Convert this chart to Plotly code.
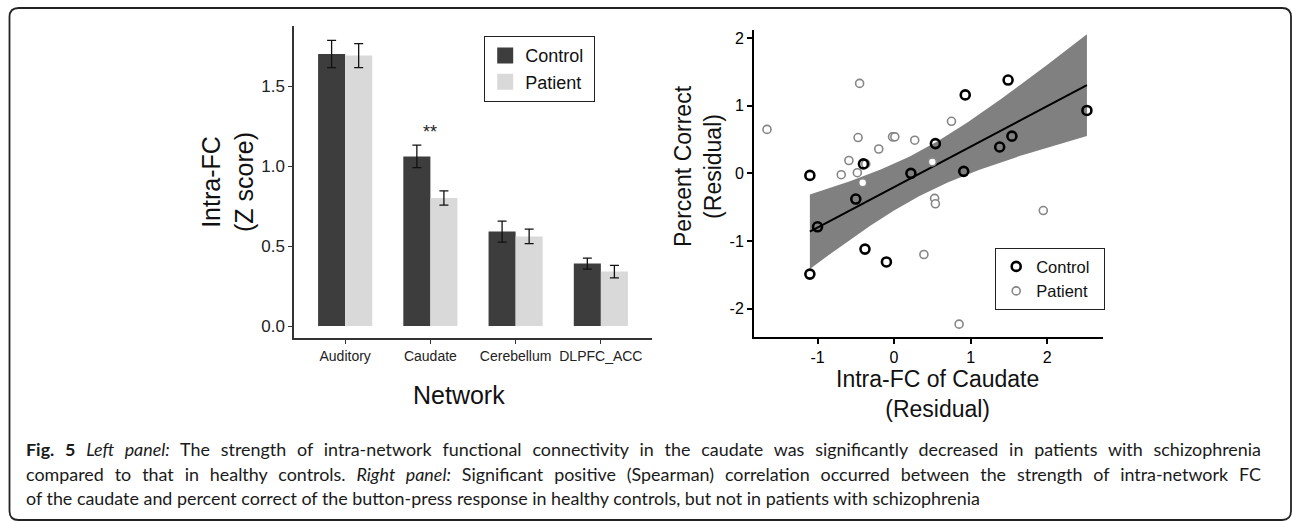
import numpy as np
import plotly.graph_objects as go

W, H = 1293, 521

# ---------------- data ----------------
networks = ["Auditory", "Caudate", "Cerebellum", "DLPFC_ACC"]
control_mean = [1.70, 1.06, 0.59, 0.39]
control_se = [0.085, 0.07, 0.066, 0.034]
patient_mean = [1.69, 0.80, 0.56, 0.34]
patient_se = [0.075, 0.044, 0.045, 0.039]
yticks_left = [0.0, 0.5, 1.0, 1.5]

control_x = [-1.10, -0.40, -0.50, 0.22, 0.54, 0.91, 0.93, -1.00, -0.38, -0.10, -1.10, 1.49, 2.52, 1.54, 1.38]
control_y = [-0.03, 0.14, -0.38, 0.00, 0.44, 0.03, 1.16, -0.79, -1.12, -1.31, -1.49, 1.38, 0.93, 0.55, 0.39]
patient_x = [-1.66, -0.45, -0.47, -0.69, -0.59, -0.48, -0.37, -0.41, -0.20, -0.02, 0.01, 0.27, 0.75, 0.50, 0.53, 0.54, 0.39, 0.85, 1.95]
patient_y = [0.65, 1.33, 0.53, -0.02, 0.19, 0.01, 0.14, -0.14, 0.36, 0.54, 0.54, 0.49, 0.77, 0.17, -0.37, -0.45, -1.20, -2.23, -0.55]
xticks_right = [-1, 0, 1, 2]
yticks_right = [-2, -1, 0, 1, 2]
T_CRIT = 2.160  # t(0.975, df=13)


def px(x):
    return x / W


def py(y):
    return 1 - y / H


FONT = "Liberation Sans, Arial, sans-serif"
DARK = "#3d3d3d"
LIGHT = "#d9d9d9"
NB = "\u00a0"

fig = go.Figure()

# ---------------- left panel: bars ----------------
fig.add_trace(go.Bar(
    x=networks, y=control_mean, name="Control", marker=dict(color=DARK, line=dict(width=0)),
    error_y=dict(type="data", array=control_se, color="#111", thickness=1.3, width=4.5),
    xaxis="x", yaxis="y", showlegend=False))
fig.add_trace(go.Bar(
    x=networks, y=patient_mean, name="Patient", marker=dict(color=LIGHT, line=dict(width=0)),
    error_y=dict(type="data", array=patient_se, color="#111", thickness=1.3, width=4.5),
    xaxis="x", yaxis="y", showlegend=False))
# legend proxies for bars
for nm, col in [("Control", DARK), ("Patient", LIGHT)]:
    fig.add_trace(go.Scatter(x=[None], y=[None], mode="markers", name=nm + NB,
                             marker=dict(symbol="square", size=16, color=col),
                             xaxis="x", yaxis="y", legend="legend", legendgroup="b" + nm))

# ---------------- right panel: scatter + fit ----------------
xc = np.array(control_x)
yc = np.array(control_y)
slope, intercept = np.polyfit(xc, yc, 1)
n = len(xc)
resid = yc - (slope * xc + intercept)
s = np.sqrt(np.sum(resid ** 2) / (n - 2))
sxx = np.sum((xc - xc.mean()) ** 2)
xs = np.linspace(xc.min(), xc.max(), 80)
fit = slope * xs + intercept
se = s * np.sqrt(1 / n + (xs - xc.mean()) ** 2 / sxx)
upper = fit + T_CRIT * se
lower = fit - T_CRIT * se

fig.add_trace(go.Scatter(
    x=np.concatenate([xs, xs[::-1]]), y=np.concatenate([upper, lower[::-1]]),
    fill="toself", fillcolor="#808080", line=dict(width=0), mode="lines",
    xaxis="x2", yaxis="y2", showlegend=False, hoverinfo="skip"))
fig.add_trace(go.Scatter(x=xs, y=fit, mode="lines", line=dict(color="black", width=2),
                         xaxis="x2", yaxis="y2", showlegend=False))
fig.add_trace(go.Scatter(
    x=patient_x, y=patient_y, mode="markers", name="Patient" + NB * 2,
    marker=dict(symbol="circle", size=8, color="white", line=dict(color="#858585", width=1.6)),
    xaxis="x2", yaxis="y2", legend="legend2", legendgroup="p"))
fig.add_trace(go.Scatter(
    x=control_x, y=control_y, mode="markers", name="Control" + NB * 2,
    marker=dict(symbol="circle-open", size=9, color="black", line=dict(color="black", width=2.6)),
    xaxis="x2", yaxis="y2", legend="legend2", legendgroup="c"))

# ---------------- layout ----------------
axis_common = dict(showgrid=False, zeroline=False, ticks="outside", showline=True)
fig.update_layout(
    width=W, height=H, margin=dict(l=0, r=0, t=0, b=0),
    paper_bgcolor="white", plot_bgcolor="white",
    font=dict(family=FONT, color="#222"),
    barmode="group", bargap=0.365, bargroupgap=0,
    xaxis=dict(**axis_common, domain=[px(294), px(652)], range=[-0.6, 3.6],
               linecolor="#333", linewidth=1.5, ticklen=4, tickwidth=1.2, tickcolor="#333",
               tickfont=dict(size=14, color="#222"), anchor="y"),
    yaxis=dict(**axis_common, domain=[py(338), py(26)], range=[-0.075, 1.875],
               tickvals=yticks_left, ticktext=[f"{v:.1f}" for v in yticks_left],
               linecolor="#333", linewidth=1.5, ticklen=4, tickwidth=1.2, tickcolor="#333",
               tickfont=dict(size=17, color="#222"), anchor="x"),
    xaxis2=dict(**axis_common, domain=[px(754), px(1103)], range=[-1.83, 2.73],
                tickvals=xticks_right, ticktext=[str(v) for v in xticks_right],
                linecolor="black", linewidth=2, ticklen=5, tickwidth=2,
                tickcolor="black", tickfont=dict(size=16, color="black"), anchor="y2"),
    yaxis2=dict(**axis_common, domain=[py(337), py(30)], range=[-2.42, 2.12],
                tickvals=yticks_right, ticktext=[str(v) for v in yticks_right],
                linecolor="black", linewidth=2, ticklen=5, tickwidth=2,
                tickcolor="black", tickfont=dict(size=16, color="black"), anchor="x2"),
    legend=dict(x=px(484), y=py(36), xanchor="left", yanchor="top",
                bordercolor="#222", borderwidth=1.2, bgcolor="white",
                font=dict(size=18, color="#111"), tracegroupgap=0, itemwidth=30),
    legend2=dict(x=px(995), y=py(248), xanchor="left", yanchor="top",
                 bordercolor="#222", borderwidth=1.2, bgcolor="white",
                 font=dict(size=16.5, color="#111"), tracegroupgap=6, itemwidth=30,
                 traceorder="reversed"),
)

annotations = [
    dict(text="**", x="Caudate", y=1.21, xref="x", yref="y", showarrow=False,
         font=dict(size=18, color="#222")),
    dict(text="Network", x=px(459), y=py(395), xref="paper", yref="paper", showarrow=False,
         xanchor="center", yanchor="middle", font=dict(size=25, color="#111")),
    dict(text="Intra-FC<br>(Z score)", x=px(228), y=py(182), xref="paper", yref="paper",
         xanchor="center", yanchor="middle",
         showarrow=False, textangle=-90, font=dict(size=25, color="#111")),
    dict(text="Intra-FC of Caudate<br>(Residual)", x=px(937), y=py(394), xref="paper",
         xanchor="center", yanchor="middle",
         yref="paper", showarrow=False, font=dict(size=23, color="#111")),
    dict(text="Percent Correct<br>(Residual)", x=px(698), y=py(166), xref="paper", yref="paper",
         xanchor="center", yanchor="middle",
         showarrow=False, textangle=-90, font=dict(size=23, color="#111")),
]
cap_font = dict(family="Lato, Open Sans, sans-serif", size=17.9, color="#1a1a1a")
captions = [
    "<b>Fig. 5</b> <i>Left panel:</i> The strength of intra-network functional connectivity in the caudate was significantly decreased in patients with schizophrenia",
    "compared to that in healthy controls. <i>Right panel:</i> Significant positive (Spearman) correlation occurred between the strength of intra-network FC",
    "of the caudate and percent correct of the button-press response in healthy controls, but not in patients with schizophrenia",
]
for txt, yc_ in zip(captions, [449, 474, 498]):
    annotations.append(dict(text=txt, x=px(24), y=py(yc_), xref="paper", yref="paper",
                            xanchor="left", yanchor="middle", showarrow=False, font=cap_font))
fig.update_layout(annotations=annotations)

# rounded frame
x0, x1, y0, y1, r = px(9.5), px(1291), py(8), py(520), 9
rx, ry = r / W, r / H
path = (f"M{x0 + rx},{y0} L{x1 - rx},{y0} Q{x1},{y0} {x1},{y0 - ry} "
        f"L{x1},{y1 + ry} Q{x1},{y1} {x1 - rx},{y1} L{x0 + rx},{y1} "
        f"Q{x0},{y1} {x0},{y1 + ry} L{x0},{y0 - ry} Q{x0},{y0} {x0 + rx},{y0} Z")
fig.add_shape(type="path", path=path, xref="paper", yref="paper",
              line=dict(color="#222", width=1.8), layer="above")

# justify the first two caption lines (the reference caption is set justified)
post = """
document.body.style.margin='0';document.body.style.overflow='hidden';
var TARGET = 1235;
document.querySelectorAll('text.annotation-text').forEach(function(t){
  var s = t.textContent || '';
  if (s.indexOf('Fig. 5') !== 0 && s.indexOf('compared to') !== 0) return;
  var b0 = t.getBBox();
  var n = (s.match(/ /g) || []).length;
  if (n > 0 && b0.width < TARGET) {
    t.style.wordSpacing = ((TARGET - b0.width) / n) + 'px';
    var b1 = t.getBBox();
    var dx = b0.x - b1.x;
    var tr = t.getAttribute('transform') || '';
    t.setAttribute('transform', tr + ' translate(' + dx + ',0)');
  }
});
"""
fig.write_html("out.html", post_script=post, config={"displayModeBar": False})
